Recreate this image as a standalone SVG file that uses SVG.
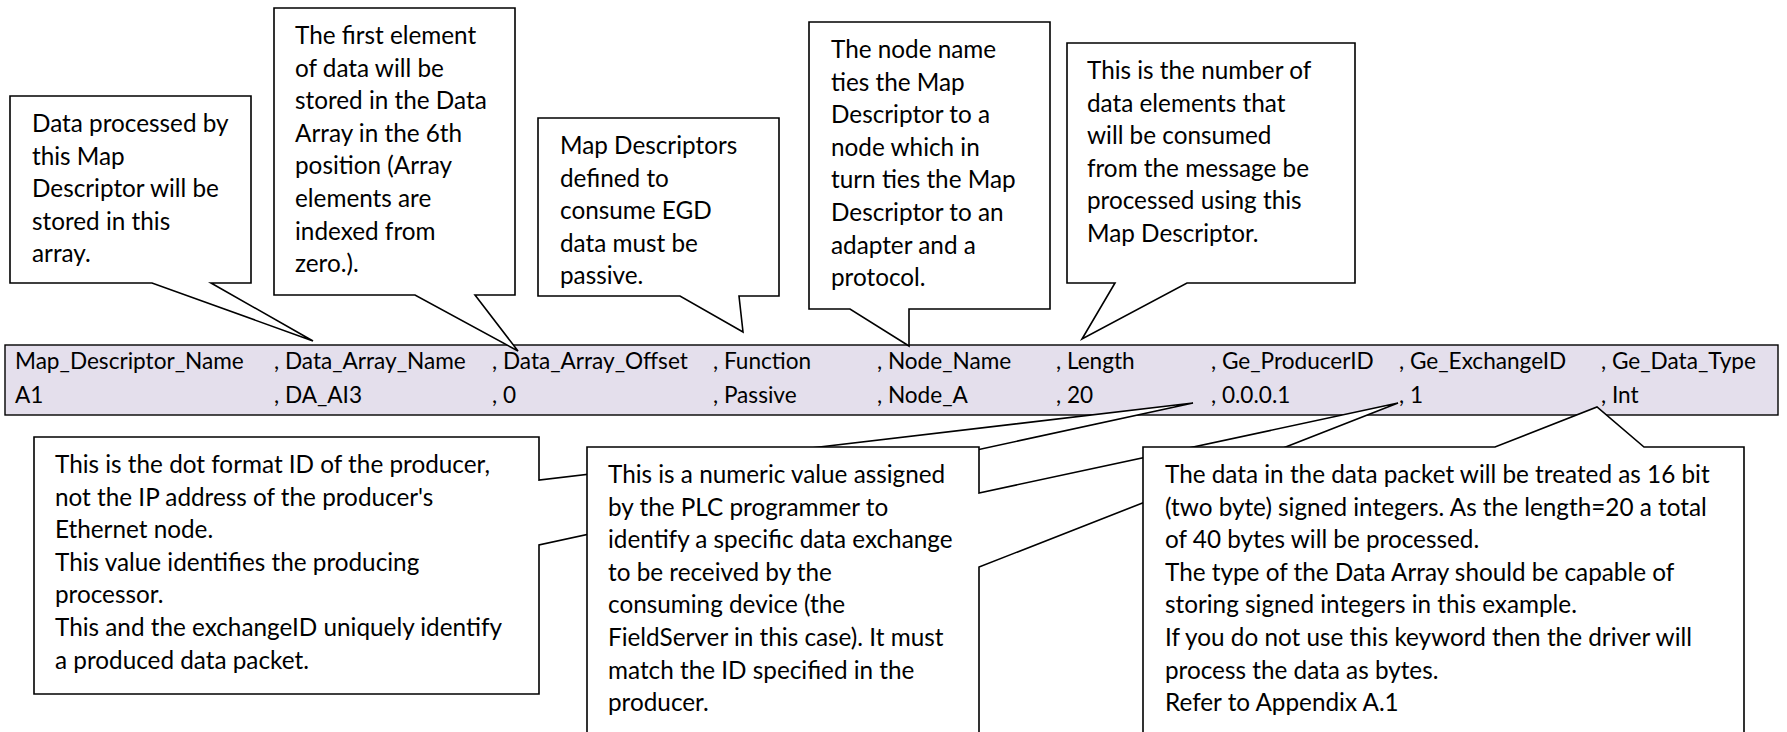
<svg xmlns="http://www.w3.org/2000/svg" width="1787" height="732" viewBox="0 0 1787 732">
<style>
.bg{fill:#ffffff}
.co{fill:#ffffff;stroke:#000000;stroke-width:1.6;stroke-linejoin:miter}
.tbl{fill:#e4dfec;stroke:#000000;stroke-width:1.4}
.t{font-family:Lato,"Open Sans",sans-serif;font-size:24.3px;fill:#000000}
.tt{font-family:Lato,"Open Sans",sans-serif;font-size:22.6px;fill:#000000}
</style>
<rect class="bg" x="0" y="0" width="1787" height="732"/>
<g id="table">
<rect class="tbl" x="5" y="345" width="1773" height="70"/>
<text class="tt" y="369"><tspan x="15">Map_Descriptor_Name</tspan><tspan x="274">, Data_Array_Name</tspan><tspan x="492">, Data_Array_Offset</tspan><tspan x="713">, Function</tspan><tspan x="877">, Node_Name</tspan><tspan x="1056">, Length</tspan><tspan x="1211">, Ge_ProducerID</tspan><tspan x="1399">, Ge_ExchangeID</tspan><tspan x="1601">, Ge_Data_Type</tspan></text>
<text class="tt" y="403"><tspan x="15">A1</tspan><tspan x="274">, DA_AI3</tspan><tspan x="492">, 0</tspan><tspan x="713">, Passive</tspan><tspan x="877">, Node_A</tspan><tspan x="1056">, 20</tspan><tspan x="1211">, 0.0.0.1</tspan><tspan x="1399">, 1</tspan><tspan x="1601">, Int</tspan></text>
</g>
<g id="callout-data-array-name">
<path class="co" d="M10,96 H251 V283 H211 L313,341 L152,283 H10 Z"/>
<text class="t"><tspan x="32" y="132">Data processed by</tspan><tspan x="32" dy="32.6">this Map</tspan><tspan x="32" dy="32.6">Descriptor will be</tspan><tspan x="32" dy="32.6">stored in this</tspan><tspan x="32" dy="32.6">array.</tspan></text>
</g>
<g id="callout-data-array-offset">
<path class="co" d="M274,8 H515 V295 H475 L518,351 L415,295 H274 Z"/>
<text class="t"><tspan x="295" y="44">The first element</tspan><tspan x="295" dy="32.6">of data will be</tspan><tspan x="295" dy="32.6">stored in the Data</tspan><tspan x="295" dy="32.6">Array in the 6th</tspan><tspan x="295" dy="32.6">position (Array</tspan><tspan x="295" dy="32.6">elements are</tspan><tspan x="295" dy="32.6">indexed from</tspan><tspan x="295" dy="32.6">zero.).</tspan></text>
</g>
<g id="callout-function">
<path class="co" d="M538,118 H779 V296 H739 L743,332 L680,296 H538 Z"/>
<text class="t"><tspan x="560" y="154">Map Descriptors</tspan><tspan x="560" dy="32.6">defined to</tspan><tspan x="560" dy="32.6">consume EGD</tspan><tspan x="560" dy="32.6">data must be</tspan><tspan x="560" dy="32.6">passive.</tspan></text>
</g>
<g id="callout-node-name">
<path class="co" d="M809,22 H1050 V309 H909 L909,346 L850,309 H809 Z"/>
<text class="t"><tspan x="831" y="58">The node name</tspan><tspan x="831" dy="32.6">ties the Map</tspan><tspan x="831" dy="32.6">Descriptor to a</tspan><tspan x="831" dy="32.6">node which in</tspan><tspan x="831" dy="32.6">turn ties the Map</tspan><tspan x="831" dy="32.6">Descriptor to an</tspan><tspan x="831" dy="32.6">adapter and a</tspan><tspan x="831" dy="32.6">protocol.</tspan></text>
</g>
<g id="callout-length">
<path class="co" d="M1067,43 H1355 V283 H1187 L1082,339 L1115,283 H1067 Z"/>
<text class="t"><tspan x="1087" y="79">This is the number of</tspan><tspan x="1087" dy="32.6">data elements that</tspan><tspan x="1087" dy="32.6">will be consumed</tspan><tspan x="1087" dy="32.6">from the message be</tspan><tspan x="1087" dy="32.6">processed using this</tspan><tspan x="1087" dy="32.6">Map Descriptor.</tspan></text>
</g>
<g id="callout-producer-id">
<path class="co" d="M34,437 H539 V480 L1193,403 L539,545 V694 H34 Z"/>
<text class="t"><tspan x="55" y="473">This is the dot format ID of the producer,</tspan><tspan x="55" dy="32.6">not the IP address of the producer's</tspan><tspan x="55" dy="32.6">Ethernet node.</tspan><tspan x="55" dy="32.6">This value identifies the producing</tspan><tspan x="55" dy="32.6">processor.</tspan><tspan x="55" dy="32.6">This and the exchangeID uniquely identify</tspan><tspan x="55" dy="32.6">a produced data packet.</tspan></text>
</g>
<g id="callout-exchange-id">
<path class="co" d="M587,447 H979 V493 L1398,403 L979,567 V745 H587 Z"/>
<text class="t"><tspan x="608" y="483">This is a numeric value assigned</tspan><tspan x="608" dy="32.6">by the PLC programmer to</tspan><tspan x="608" dy="32.6">identify a specific data exchange</tspan><tspan x="608" dy="32.6">to be received by the</tspan><tspan x="608" dy="32.6">consuming device (the</tspan><tspan x="608" dy="32.6">FieldServer in this case). It must</tspan><tspan x="608" dy="32.6">match the ID specified in the</tspan><tspan x="608" dy="32.6">producer.</tspan></text>
</g>
<g id="callout-data-type">
<path class="co" d="M1143,447 H1495 L1597,407 L1644,447 H1744 V745 H1143 Z"/>
<text class="t"><tspan x="1165" y="483">The data in the data packet will be treated as 16 bit</tspan><tspan x="1165" dy="32.6">(two byte) signed integers. As the length=20 a total</tspan><tspan x="1165" dy="32.6">of 40 bytes will be processed.</tspan><tspan x="1165" dy="32.6">The type of the Data Array should be capable of</tspan><tspan x="1165" dy="32.6">storing signed integers in this example.</tspan><tspan x="1165" dy="32.6">If you do not use this keyword then the driver will</tspan><tspan x="1165" dy="32.6">process the data as bytes.</tspan><tspan x="1165" dy="32.6">Refer to Appendix A.1</tspan></text>
</g>
</svg>
